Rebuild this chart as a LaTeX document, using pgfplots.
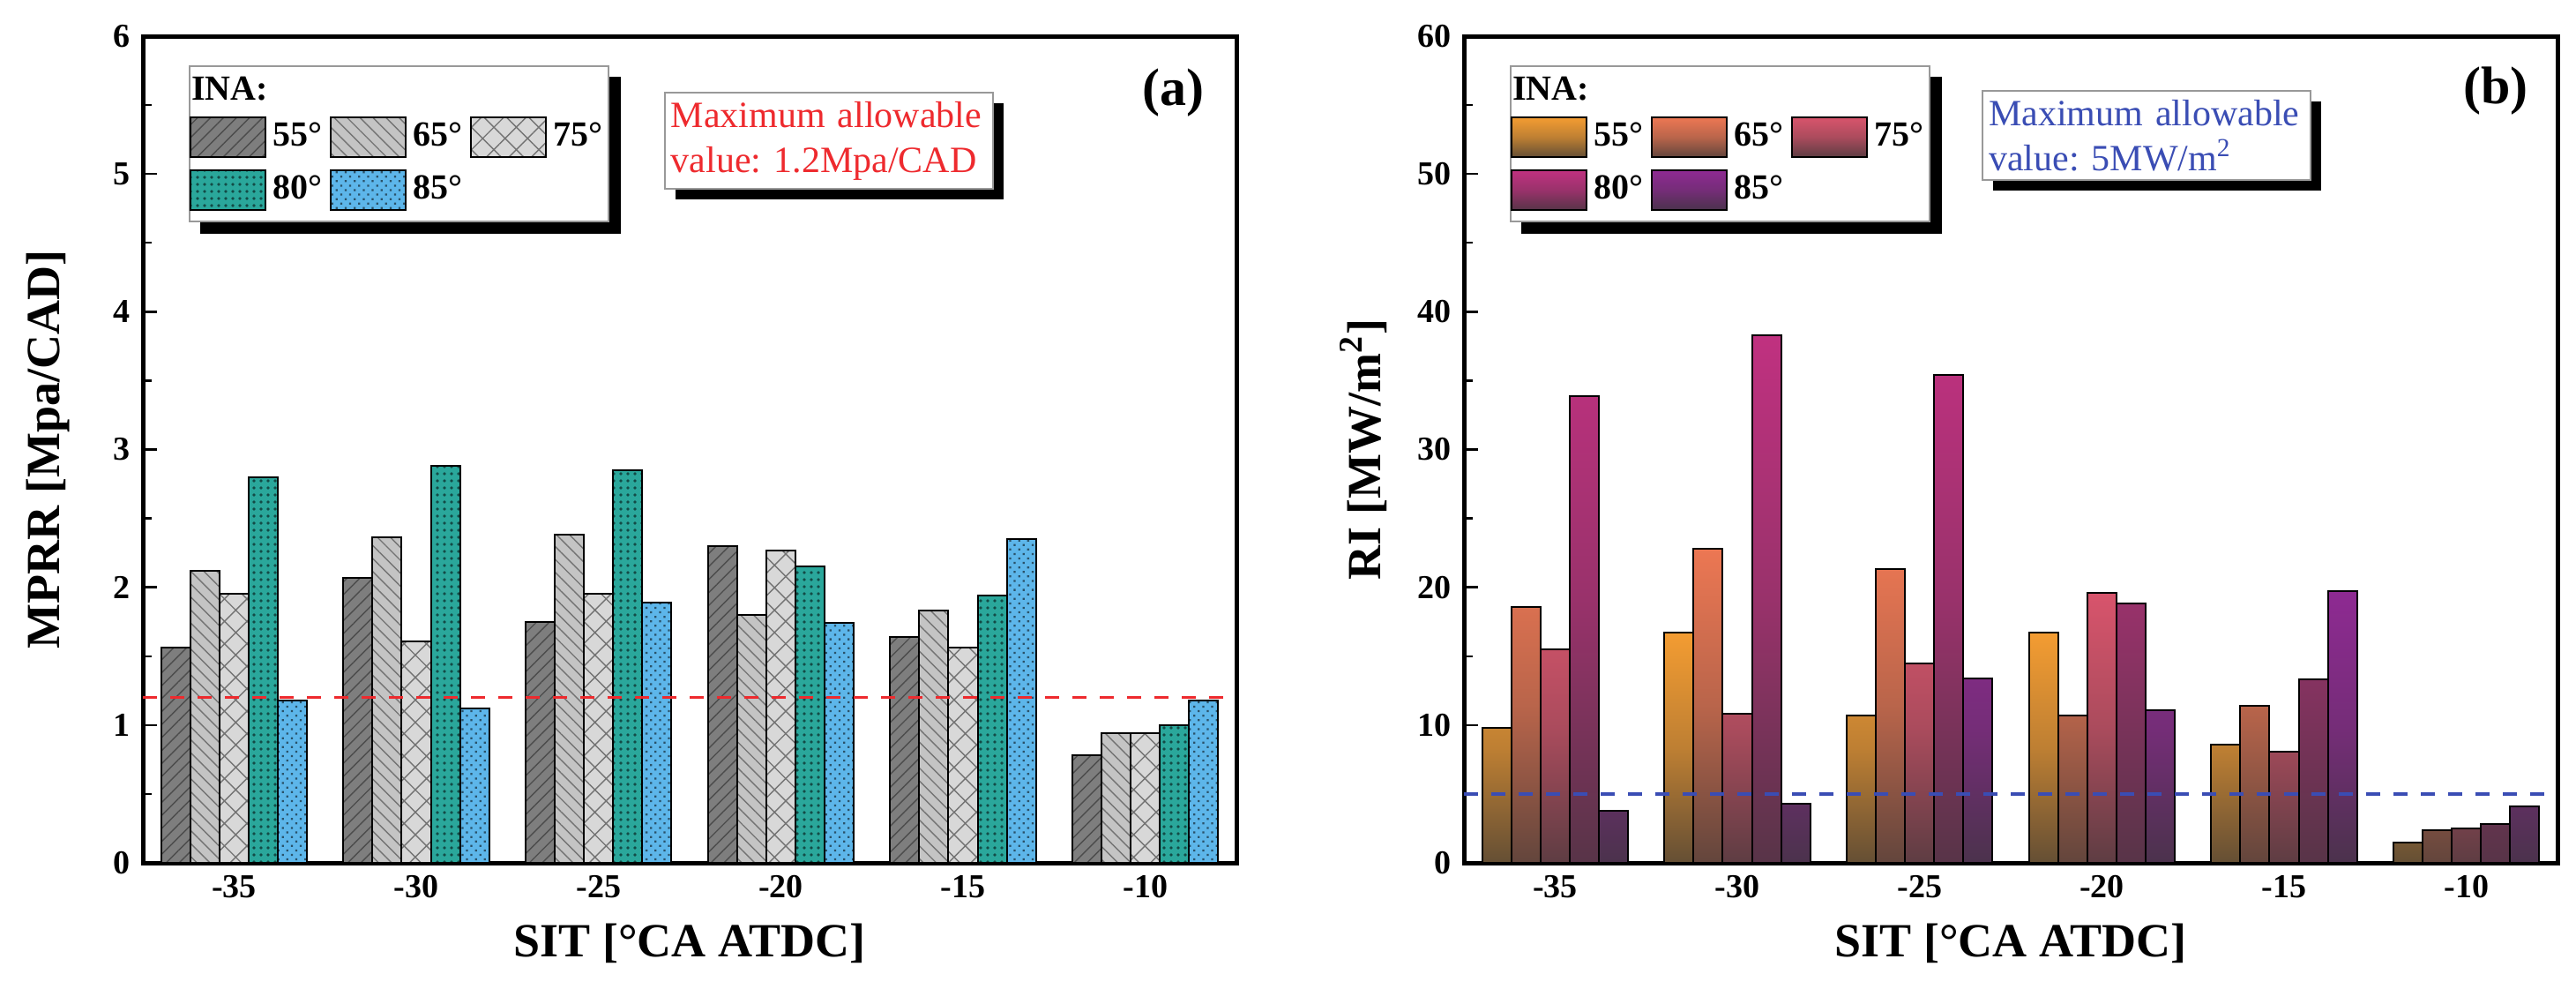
\documentclass[border=0pt]{standalone}
\usepackage{fontspec}
\setmainfont{Liberation Serif}
\usepackage{pgfplots}
\usepackage{pgfplotstable}
\pgfplotsset{compat=1.18}
\usetikzlibrary{patterns.meta,shadows,backgrounds}
\frenchspacing

\definecolor{gA}{HTML}{7E7E7E}
\definecolor{gB}{HTML}{C4C4C4}
\definecolor{gC}{HTML}{D8D8D8}
\definecolor{tealA}{HTML}{2AA79B}
\definecolor{blueA}{HTML}{5DB6EA}
\definecolor{oA}{HTML}{F39C32}
\definecolor{oB}{HTML}{EC7753}
\definecolor{oC}{HTML}{D8546C}
\definecolor{oD}{HTML}{C03180}
\definecolor{oE}{HTML}{8E2A92}
\definecolor{shadebase}{HTML}{353535}
\definecolor{limred}{HTML}{EE2A2E}
\definecolor{limblue}{HTML}{3A4DB4}

% MPRR per spark ignition timing (rows) and injection angle (columns)
\pgfplotstableread{
x  a55  a65  a75  a80  a85
0  1.56 2.12 1.95 2.80 1.18
1  2.07 2.36 1.61 2.88 1.12
2  1.75 2.38 1.95 2.85 1.89
3  2.30 1.80 2.27 2.15 1.74
4  1.64 1.83 1.56 1.94 2.35
5  0.78 0.94 0.94 1.00 1.18
}\mprr

% Ringing intensity
\pgfplotstableread{
x  r55  r65  r75  r80  r85
0  9.8  18.6 15.5 33.9 3.8
1  16.7 22.8 10.8 38.3 4.3
2  10.7 21.3 14.5 35.4 13.4
3  16.7 10.7 19.6 18.8 11.1
4  8.6  11.4 8.1  13.3 19.7
5  1.5  2.4  2.5  2.8  4.1
}\ri

\tikzset{
  limbox/.style={anchor=north west, draw=gray!80, line width=0.5pt, fill=white,
    align=left, text width=89.5pt, inner xsep=1.75pt, inner ysep=2.5pt,
    font=\fontsize{10.5}{12.75}\selectfont,
    drop shadow={shadow xshift=3pt, shadow yshift=-3pt, fill=black, opacity=1}},
  barbase/.style={draw=black, line width=0.5pt},
  boxshadow/.style={fill=black},
  % vertical gradient of a bar: vivid top fading to dark grey at the base
  fade/.style={top color=#1, bottom color=#1!25!shadebase, middle color=#1!72!shadebase},
}

\pgfplotsset{
  sitaxis/.style={
    scale only axis, width=310pt, height=234.25pt,
    ybar, bar width=0.16,
    xmin=-0.5, xmax=5.5, ymin=0,
    xtick={0,...,5}, xticklabels={-35,-30,-25,-20,-15,-10},
    xtick style={draw=none},
    ytick pos=left, tick align=inside,
    minor y tick num=1,
    major tick length=4pt, minor tick length=2.5pt,
    tick style={black, line width=0.6pt},
    axis line style={line width=1.25pt},
    /pgf/number format/assume math mode=true,
    tick label style={font=\bfseries\fontsize{9.5}{11}\selectfont},
    label style={font=\bfseries\fontsize{13.5}{16}\selectfont},
    xlabel={SIT [°CA ATDC]},
    xlabel style={at={(axis description cs:0.5,-0.098)}, anchor=center},
    legend columns=3,
    legend cell align=left,
    legend image code/.code={\draw[##1] (0pt,-5.6pt) rectangle (21.25pt,5.6pt);},
    legend style={at={(axis description cs:0.042,0.965)}, anchor=north west,
      draw=gray!80, line width=0.5pt, fill=white, inner xsep=0pt, inner ysep=3pt,
      row sep=3.25pt,
      nodes={inner xsep=1.75pt, inner ysep=0pt, font=\bfseries\fontsize{10}{12}\selectfont},
      /tikz/every even column/.append style={column sep=0.5pt}},
  },
}

\begin{document}
\begin{tikzpicture}
\useasboundingbox (0,0) rectangle (730.25pt,284.25pt);

% (a) maximum pressure rise rate
\begin{axis}[sitaxis, at={(40.5pt,39.75pt)}, anchor=south west,
  ymax=6, ytick={0,...,6},
  ylabel={MPRR [Mpa/CAD]},
  ylabel style={at={(axis description cs:-0.087,0.5)}, anchor=center},
  legend style={name=legA}]
\addlegendimage{empty legend}\addlegendentry{\makebox[0pt][l]{\hspace*{-23pt}INA:}}
\addlegendimage{empty legend}\addlegendentry{}
\addlegendimage{empty legend}\addlegendentry{}
\addplot[barbase, bar shift=-0.32, fill=gA,
  postaction={pattern={Lines[angle=45,distance=2.6pt,line width=0.35pt]}, pattern color=black!70}]
  table[x=x,y=a55]{\mprr};
\addlegendentry{55°}
\addplot[barbase, bar shift=-0.16, fill=gB,
  postaction={pattern={Lines[angle=-45,distance=2.6pt,line width=0.35pt]}, pattern color=black!55}]
  table[x=x,y=a65]{\mprr};
\addlegendentry{65°}
\addplot[barbase, bar shift=0, fill=gC,
  postaction={pattern={Hatch[angle=45,distance=4.5pt,line width=0.35pt]}, pattern color=black!55}]
  table[x=x,y=a75]{\mprr};
\addlegendentry{75°}
\addplot[barbase, bar shift=0.16, fill=tealA,
  postaction={pattern={Dots[distance=2pt,radius=0.45pt]}, pattern color=tealA!45!black}]
  table[x=x,y=a80]{\mprr};
\addlegendentry{80°}
\addplot[barbase, bar shift=0.32, fill=blueA,
  postaction={pattern={Dots[distance=1.8pt,radius=0.4pt,angle=45]}, pattern color=blueA!45!black}]
  table[x=x,y=a85]{\mprr};
\addlegendentry{85°}
\draw[limred, line width=0.9pt, dash pattern=on 4pt off 3.75pt]
  (axis cs:-0.5,1.2) -- (axis cs:5.5,1.2);
\node[limbox, text=limred] at (axis description cs:0.4766,0.9328)
  {Maximum allowable\\value: 1.2Mpa/CAD};
\node[font=\bfseries\fontsize{15}{18}\selectfont] at (axis description cs:0.942,0.9317) {(a)};
\end{axis}

% (b) ringing intensity
\begin{axis}[sitaxis, at={(415pt,39.75pt)}, anchor=south west,
  ymax=60, ytick={0,10,...,60},
  ylabel={RI [MW/m\textsuperscript{2}]},
  ylabel style={at={(axis description cs:-0.092,0.5)}, anchor=center},
  legend style={name=legB}]
\addlegendimage{empty legend}\addlegendentry{\makebox[0pt][l]{\hspace*{-23pt}INA:}}
\addlegendimage{empty legend}\addlegendentry{}
\addlegendimage{empty legend}\addlegendentry{}
\addplot[barbase, bar shift=-0.32, fade=oA] table[x=x,y=r55]{\ri};
\addlegendentry{55°}
\addplot[barbase, bar shift=-0.16, fade=oB] table[x=x,y=r65]{\ri};
\addlegendentry{65°}
\addplot[barbase, bar shift=0, fade=oC] table[x=x,y=r75]{\ri};
\addlegendentry{75°}
\addplot[barbase, bar shift=0.16, fade=oD] table[x=x,y=r80]{\ri};
\addlegendentry{80°}
\addplot[barbase, bar shift=0.32, fade=oE] table[x=x,y=r85]{\ri};
\addlegendentry{85°}
\draw[limblue, line width=0.9pt, dash pattern=on 4pt off 3.75pt]
  (axis cs:-0.5,5) -- (axis cs:5.5,5);
\node[limbox, text=limblue] at (axis description cs:0.4734,0.935)
  {Maximum allowable\\value: 5MW/m\textsuperscript{2}};
\node[font=\bfseries\fontsize{15}{18}\selectfont] at (axis description cs:0.9435,0.934) {(b)};
\end{axis}

% solid shadows behind both legend boxes
\begin{pgfonlayer}{background}
  \foreach \lg in {legA,legB}
    \fill[boxshadow] ([shift={(3.25pt,-3.25pt)}]\lg.south west)
      rectangle ([shift={(3.25pt,-3.25pt)}]\lg.north east);
\end{pgfonlayer}
\end{tikzpicture}
\end{document}
